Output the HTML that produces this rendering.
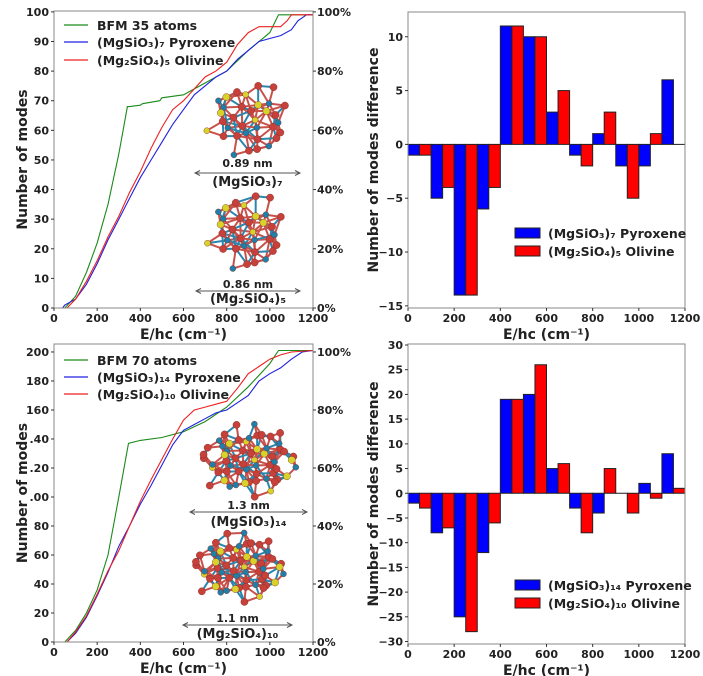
<!DOCTYPE html>
<html><head><meta charset="utf-8"><style>
html,body{margin:0;padding:0;background:#fff;}
svg{display:block;font-family:"DejaVu Sans","Liberation Sans",sans-serif;font-weight:bold;}
</style></head><body>
<svg id="fig" width="703" height="676" viewBox="0 0 703 676" xmlns="http://www.w3.org/2000/svg"></svg>
<script>
// ---- Panel (a): cumulative modes, 35 atoms ----
const aBfmE=[50,100,150,200,250,300,340,350,400,410,490,500,600,650,700,800,900,1000,1040,1200];
const aBfmN=[0,4,12,22,35,52,68,68,68.5,69,70,71,72,74,76,80,87,93,99,99];
const aPyrE=[40,50,100,150,200,250,300,350,400,450,500,550,600,650,700,750,800,850,900,950,1000,1050,1100,1130,1150,1170,1200];
const aPyrN=[0,1,3,8,15,23,30,37,44,50,56,62,67,72,75,78,80,84,87,90,91,92,94,97,98,99,99];
const aOliE=[60,100,150,200,250,300,350,400,450,500,550,600,650,700,750,800,850,900,950,1000,1050,1080,1100,1200];
const aOliN=[0,3,9,16,24,31,39,46,54,61,67,70,74,78,80,83,89,93,95,95,95,97,99,99];
// ---- Panel (c): cumulative modes, 70 atoms ----
const cBfmE=[50,100,150,200,250,300,345,400,500,600,700,800,900,1000,1040,1200];
const cBfmN=[0,8,20,36,60,100,137,139,141,145,152,162,176,192,201,201];
const cPyrE=[60,100,150,200,250,300,350,400,450,500,550,600,650,700,750,800,850,900,950,1000,1050,1100,1150,1200];
const cPyrN=[0,6,17,32,48,66,80,95,108,122,136,146,150,154,158,160,165,170,180,185,189,195,200,201];
const cOliE=[60,100,150,200,250,300,350,400,450,500,550,600,650,700,750,800,850,900,950,1000,1050,1100,1200];
const cOliN=[0,7,18,33,49,63,80,97,112,126,140,153,160,162,164,166,175,185,190,195,198,200,201];
// ---- Panel (b)/(d): difference histograms ----
const binStarts=[0,100,200,300,400,500,600,700,800,900,1000,1100];
const bPyr=[-1,-5,-14,-6,11,10,3,-1,1,-2,-2,6];
const bOli=[-1,-4,-14,-4,11,10,5,-2,3,-5,1,0];
const dPyr=[-2,-8,-25,-12,19,20,5,-3,-4,0,2,8];
const dOli=[-3,-7,-28,-6,19,26,6,-8,5,-4,-1,1];
const xTicks=[0,200,400,600,800,1000,1200];

const NS="http://www.w3.org/2000/svg";
const svg=document.getElementById('fig');
function el(tag,attrs,parent,text){const e=document.createElementNS(NS,tag);for(const k in attrs)e.setAttribute(k,attrs[k]);if(text!==undefined)e.textContent=text;(parent||svg).appendChild(e);return e;}
function lin(d0,d1,r0,r1){return v=>r0+(v-d0)*(r1-r0)/(d1-d0);}

function axesFrame(g,x0,x1,y0,y1){
  const f=el('rect',{x:x0,y:y0,width:x1-x0,height:y1-y0,fill:'none',stroke:'#888','stroke-width':1},g);
  
  
}
function xAxis(g,sx,y1,name){
  const xg=el('g',{},g);
  
  
  xTicks.forEach(t=>{
    el('line',{x1:sx(t),x2:sx(t),y1:y1,y2:y1+3,stroke:'#333'},xg);
    const tx=el('text',{x:sx(t),y:y1+14,'font-size':11,'text-anchor':'middle',fill:'#222'},xg,String(t));
    
    
  });
}
function cumPanel(id,x0,x1,y0,y1,ymax,fullN,yTicks,yLabels,pctTicks,series,legendY,legendTexts,mols){
  const g=el('g',{});
  
  
  const sx=lin(0,1200,x0,x1), sy=lin(0,ymax,y1,y0);
  mols.forEach(m=>molecule(g,m));
  series.forEach(s=>{
    let d='';
    for(let i=0;i<s.e.length;i++){
      const X=sx(s.e[i]),Y=sy(s.n[i]);
      d+=(i===0?'M':' L')+X.toFixed(1)+' '+Y.toFixed(1);
    }
    const p=el('path',{d:d,fill:'none',stroke:s.c,'stroke-width':1.1},g);
    
    
  });
  axesFrame(g,x0,x1,y0,y1);
  xAxis(g,sx,y1,'x-axis');
  yTicks.forEach((t,i)=>{
    el('line',{x1:x0-3,x2:x0,y1:sy(t),y2:sy(t),stroke:'#333'},g);
    const tx=el('text',{x:x0-5,y:sy(t)+4,'font-size':11,'text-anchor':'end',fill:'#222'},g,yLabels[i]);
    
    
  });
  pctTicks.forEach(p=>{
    const Y=sy(fullN*p/100);
    el('line',{x1:x1,x2:x1+3,y1:Y,y2:Y,stroke:'#333'},g);
    const tx=el('text',{x:x1+4,y:Y+4,'font-size':11,fill:'#222'},g,p+'%');
    
    
  });
  const xl=el('text',{x:(x0+x1)/2,y:y1+31,'font-size':14,'text-anchor':'middle',fill:'#222'},g,'E/hc (cm\u207B\u00B9)');
  
  
  const yl=el('text',{x:0,y:0,'font-size':14,'text-anchor':'middle',fill:'#222',transform:'translate(27,'+((y0+y1)/2)+') rotate(-90)'},g,'Number of modes');
  
  
  series.forEach((s,i)=>{
    const lg=el('g',{},g);
    
    
    el('line',{x1:64,x2:88,y1:legendY[i],y2:legendY[i],stroke:s.c,'stroke-width':1.3},lg);
    el('text',{x:97,y:legendY[i]+5,'font-size':12.5,fill:'#222'},lg,legendTexts[i]);
  });
}
function molecule(g,m){
  const mg=el('g',{},g);
  
  
  const pts=[];const n=m.n;
  for(let i=0;i<n;i++){
    const a=i*2.399, r=Math.sqrt((i+0.5)/n)*(0.85+0.15*Math.sin(i*1.7));
    pts.push([m.cx+Math.cos(a)*r*m.rx, m.cy+Math.sin(a)*r*m.ry]);
  }
  for(let i=0;i<n;i++){for(let j=i+1;j<n;j++){
    const dx=pts[i][0]-pts[j][0],dy=pts[i][1]-pts[j][1];
    if(Math.hypot(dx,dy)<m.bond){el('line',{x1:pts[i][0],y1:pts[i][1],x2:pts[j][0],y2:pts[j][1],stroke:(i+j)%3?'#c8514b':'#2b86ad','stroke-width':2},mg);}
  }}
  pts.forEach((p,i)=>{
    const c=i%5===0?'#d8d22a':(i%3===0?'#1f7fa8':'#c8403a');
    el('circle',{cx:p[0],cy:p[1],r:i%3===0?3:3.6,fill:c,stroke:'#7a2a22','stroke-width':0.4},mg);
  });
  const ag=el('g',{},g);
  
  
  el('text',{x:(m.ax0+m.ax1)/2,y:m.sizeY,'font-size':11,'text-anchor':'middle',fill:'#222'},ag,m.size);
  el('line',{x1:m.ax0,x2:m.ax1,y1:m.arrowY,y2:m.arrowY,stroke:'#555','stroke-width':1},ag);
  el('path',{d:`M${m.ax0+5} ${m.arrowY-2.5} L${m.ax0} ${m.arrowY} L${m.ax0+5} ${m.arrowY+2.5}`,fill:'none',stroke:'#555'},ag);
  el('path',{d:`M${m.ax1-5} ${m.arrowY-2.5} L${m.ax1} ${m.arrowY} L${m.ax1-5} ${m.arrowY+2.5}`,fill:'none',stroke:'#555'},ag);
  el('text',{x:(m.ax0+m.ax1)/2,y:m.labelY,'font-size':13,'text-anchor':'middle',fill:'#222'},ag,m.label);
}
function barPanel(id,x0,x1,y0,y1,ymin,ymax,yTicks,pyr,oli,legY,legTexts){
  const g=el('g',{});
  
  
  const sx=lin(0,1200,x0,x1), sy=lin(ymin,ymax,y1,y0);
  binStarts.forEach((b,i)=>{
    [[pyr[i],0,'#0000ff','bar-pyroxene'],[oli[i],50,'#ff0000','bar-olivine']].forEach(([v,off,c,nm])=>{
      const xa=sx(b+off),xb=sx(b+off+50);
      const ya=Math.min(sy(v),sy(0)),h=Math.abs(sy(v)-sy(0));
      const r=el('rect',{x:xa,y:ya,width:xb-xa,height:Math.max(h,0.01),fill:c,stroke:'#222','stroke-width':1},g);
      
      
    });
  });
  axesFrame(g,x0,x1,y0,y1);
  xAxis(g,sx,y1,'x-axis');
  yTicks.forEach(t=>{
    el('line',{x1:x0-3,x2:x0,y1:sy(t),y2:sy(t),stroke:'#333'},g);
    const tx=el('text',{x:x0-5,y:sy(t)+4,'font-size':11,'text-anchor':'end',fill:'#222'},g,t<0?'\u2212'+(-t):String(t));
    
    
  });
  const xl=el('text',{x:(x0+x1)/2,y:y1+31,'font-size':14,'text-anchor':'middle',fill:'#222'},g,'E/hc (cm\u207B\u00B9)');
  
  
  const yl=el('text',{x:0,y:0,'font-size':14,'text-anchor':'middle',fill:'#222',transform:'translate(378,'+((y0+y1)/2)+') rotate(-90)'},g,'Number of modes difference');
  
  
  [['#0000ff',legTexts[0]],['#ff0000',legTexts[1]]].forEach(([c,t],i)=>{
    const lg=el('g',{},g);
    
    
    el('rect',{x:515,y:legY[i],width:25,height:10,fill:c,stroke:'#222','stroke-width':1},lg);
    el('text',{x:548,y:legY[i]+10,'font-size':12.5,fill:'#222'},lg,t);
  });
}

cumPanel('panel-cumulative-35',54,313,11,308,100.3,100,[0,10,20,30,40,50,60,70,80,90,100],['0','10','20','30','40','50','60','70','80','90','100'],[0,20,40,60,80,100],
 [{e:aBfmE,n:aBfmN,c:'#1a8a1a',name:'line-bfm'},{e:aPyrE,n:aPyrN,c:'#2020e0',name:'line-pyroxene'},{e:aOliE,n:aOliN,c:'#ee2020',name:'line-olivine'}],
 [25,42,60],['BFM 35 atoms','(MgSiO\u2083)\u2087 Pyroxene','(Mg\u2082SiO\u2084)\u2085 Olivine'],
 [{cx:250,cy:120,rx:50,ry:42,n:34,bond:21,size:'0.89 nm',sizeY:167,arrowY:173,ax0:195,ax1:300,label:'(MgSiO\u2083)\u2087',labelY:186},
  {cx:248,cy:232,rx:47,ry:44,n:34,bond:21,size:'0.86 nm',sizeY:288,arrowY:291,ax0:196,ax1:300,label:'(Mg\u2082SiO\u2084)\u2085',labelY:303}]);
cumPanel('panel-cumulative-70',54,313,344,642,205.5,200,[0,20,40,60,80,100,120,140,160,180,200],['0','20','40','60','80','.00','.20','.40','160','180','200'],[0,20,40,60,80,100],
 [{e:cBfmE,n:cBfmN,c:'#1a8a1a',name:'line-bfm'},{e:cPyrE,n:cPyrN,c:'#2020e0',name:'line-pyroxene'},{e:cOliE,n:cOliN,c:'#ee2020',name:'line-olivine'}],
 [360,377,394],['BFM 70 atoms','(MgSiO\u2083)\u2081\u2084 Pyroxene','(Mg\u2082SiO\u2084)\u2081\u2080 Olivine'],
 [{cx:250,cy:460,rx:58,ry:40,n:60,bond:17,size:'1.3 nm',sizeY:509,arrowY:512,ax0:190,ax1:307,label:'(MgSiO\u2083)\u2081\u2084',labelY:526},
  {cx:240,cy:567,rx:55,ry:38,n:60,bond:17,size:'1.1 nm',sizeY:622,arrowY:625,ax0:183,ax1:292,label:'(Mg\u2082SiO\u2084)\u2081\u2080',labelY:638}]);
barPanel('panel-difference-35',408,685,12,308,-15.2,12.3,[-15,-10,-5,0,5,10],bPyr,bOli,[228,246],['(MgSiO\u2083)\u2087 Pyroxene','(Mg\u2082SiO\u2084)\u2085 Olivine']);
barPanel('panel-difference-70',408,685,344,644,-30.5,30.2,[-30,-25,-20,-15,-10,-5,0,5,10,15,20,25,30],dPyr,dOli,[580,598],['(MgSiO\u2083)\u2081\u2084 Pyroxene','(Mg\u2082SiO\u2084)\u2081\u2080 Olivine']);
</script>
</body></html>
